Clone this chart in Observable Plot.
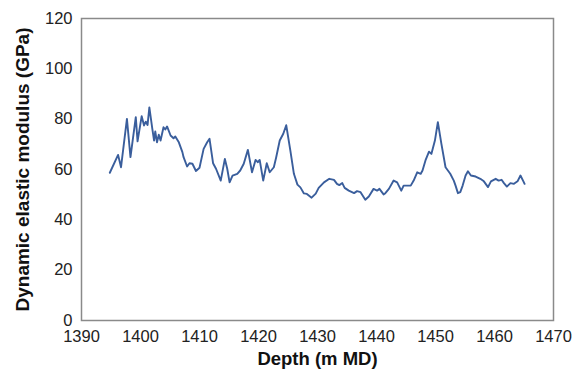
<!DOCTYPE html>
<html>
<head>
<meta charset="utf-8">
<script src="https://cdn.jsdelivr.net/npm/d3@7"></script>
<script src="https://cdn.jsdelivr.net/npm/@observablehq/plot@0.6"></script>
<style>
  html, body { margin: 0; padding: 0; background: #fff; }
  svg { font-family: "Liberation Sans", Arial, sans-serif; }
</style>
</head>
<body>
<div id="chart"></div>
<script>
const depth = [
  1394.8, 1396.2, 1396.7, 1397.7, 1398.3, 1399.2, 1399.5, 1400.2, 1400.6, 1400.9,
  1401.2, 1401.5, 1402.0, 1402.3, 1402.5, 1402.8, 1403.1, 1403.4, 1403.9, 1404.2,
  1404.5, 1405.1, 1405.6, 1405.9, 1406.5, 1407.1, 1407.3, 1407.9, 1408.3, 1408.8,
  1409.4, 1410.0, 1410.7, 1411.3, 1411.7, 1412.3, 1412.8, 1413.6, 1414.3, 1414.7,
  1415.1, 1415.6, 1416.4, 1416.9, 1417.5, 1418.2, 1418.9, 1419.5, 1419.9, 1420.2,
  1420.8, 1421.4, 1421.9, 1422.6, 1423.0, 1423.6, 1424.2, 1424.7, 1425.4, 1426.0,
  1426.6, 1427.1, 1427.7, 1428.2, 1429.0, 1429.7, 1430.2, 1431.1, 1432.0, 1432.8,
  1433.3, 1433.7, 1434.2, 1434.6, 1435.3, 1436.2, 1436.7, 1437.3, 1438.1, 1438.7,
  1439.5, 1440.1, 1440.5, 1441.2, 1441.5, 1442.1, 1442.9, 1443.5, 1444.2, 1444.6,
  1445.8, 1446.3, 1446.9, 1447.5, 1447.8, 1448.3, 1448.9, 1449.3, 1449.9, 1450.4,
  1451.0, 1451.7, 1452.5, 1453.1, 1453.4, 1453.8, 1454.2, 1454.6, 1455.1, 1455.5,
  1456.0, 1456.8, 1457.6, 1458.2, 1458.9, 1459.4, 1460.2, 1460.7, 1461.2, 1461.6,
  1462.1, 1462.7, 1463.3, 1463.9, 1464.4, 1464.9, 1465.1
];
const modulus = [
  58.7, 65.8, 60.9, 80.1, 64.9, 80.8, 71.2, 81.2, 77.5, 79.0,
  77.7, 84.7, 76.2, 71.5, 75.1, 70.8, 73.8, 71.5, 76.8, 75.9,
  77.1, 73.5, 72.4, 73.1, 70.8, 66.9, 64.9, 61.2, 62.5, 62.3,
  59.4, 60.7, 68.2, 70.8, 72.2, 62.5, 60.3, 55.6, 64.2, 60.3,
  54.9, 57.6, 58.3, 59.6, 62.3, 67.8, 58.9, 63.8, 62.9, 63.8,
  55.6, 62.5, 58.9, 60.9, 64.9, 71.5, 74.2, 77.6, 67.5, 58.3,
  54.0, 52.9, 50.5, 50.3, 48.8, 50.4, 52.7, 54.9, 56.3, 55.9,
  54.3, 53.8, 54.6, 52.7, 51.6, 50.6, 51.4, 51.0, 48.0, 49.3,
  52.3, 51.6, 52.3, 50.1, 50.6, 52.3, 55.6, 54.9, 51.6, 53.6,
  53.6, 55.6, 58.9, 58.3, 59.6, 63.6, 67.1, 66.2, 71.5, 78.8,
  70.2, 60.9, 58.3, 55.6, 53.6, 50.6, 51.0, 53.6, 57.6, 59.3,
  57.6, 57.2, 56.3, 55.3, 53.0, 55.3, 56.3, 55.6, 55.9, 54.6,
  53.2, 54.6, 54.3, 55.3, 57.6, 55.3, 54.3
];
const xTicks = [1390, 1400, 1410, 1420, 1430, 1440, 1450, 1460, 1470];
const yTicks = [0, 20, 40, 60, 80, 100, 120];
const xTitle = "Depth (m MD)";
const yTitle = "Dynamic elastic modulus (GPa)";

const data = depth.map((d, i) => ({depth: d, modulus: modulus[i]}));

const chart = Plot.plot({
  width: 583,
  height: 379,
  marginLeft: 81,
  marginRight: 30,
  marginTop: 18,
  marginBottom: 59,
  style: {fontFamily: "'Liberation Sans', Arial, sans-serif", background: "#fff"},
  x: {domain: [1390, 1470], ticks: xTicks, label: null},
  y: {domain: [0, 120], ticks: yTicks, label: null},
  marks: [
    Plot.frame({stroke: "#8a8a8a", strokeWidth: 1.5}),
    Plot.axisX({ticks: xTicks, tickFormat: d3.format("d"), tickSize: 0, tickPadding: 10, fontSize: 16.5, fill: "#222", label: null}),
    Plot.axisY({ticks: yTicks, tickFormat: d3.format("d"), tickSize: 0, tickPadding: 9, fontSize: 16.5, fill: "#222", label: null}),
    Plot.line(data, {x: "depth", y: "modulus", stroke: "#3a5e9c", strokeWidth: 1.9}),
    Plot.text([xTitle], {text: d => d, frameAnchor: "bottom", dy: 44, textAnchor: "middle", fontSize: 18.5, fontWeight: "bold", fill: "#111"}),
    Plot.text([yTitle], {text: d => d, frameAnchor: "left", dx: -59, rotate: -90, textAnchor: "middle", fontSize: 19, fontWeight: "bold", fill: "#111"})
  ]
});
document.getElementById("chart").appendChild(chart);
</script>
</body>
</html>
